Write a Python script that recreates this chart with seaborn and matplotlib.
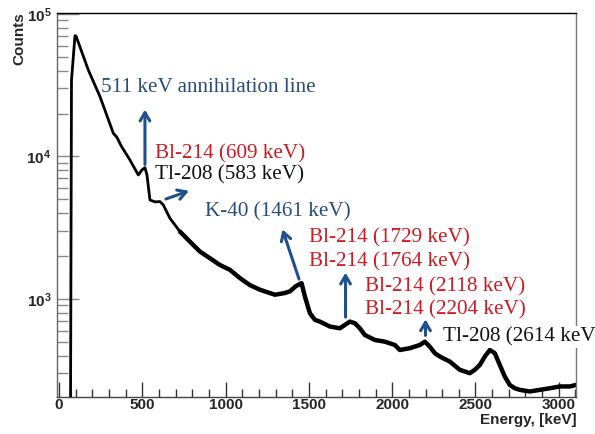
import numpy as np
import pandas as pd
import matplotlib
matplotlib.use('Agg')
import matplotlib.pyplot as plt
import seaborn as sns
from matplotlib.ticker import MultipleLocator, LogLocator, LogFormatterSciNotation

# Spectrum (energy in keV, counts per channel)
energy = [55, 69, 75, 96, 102, 176, 246, 326, 346, 376, 426, 476, 498, 516, 528,
          546, 576, 606, 626, 646, 666, 726, 786, 846, 906, 966, 1026, 1086, 1146,
          1206, 1296, 1356, 1386, 1422, 1456, 1476, 1506, 1536, 1566, 1626, 1686,
          1716, 1746, 1776, 1806, 1836, 1896, 1956, 2016, 2046, 2106, 2166, 2196,
          2226, 2256, 2286, 2346, 2406, 2466, 2496, 2526, 2556, 2586, 2616, 2646,
          2676, 2706, 2736, 2766, 2826, 2886, 2946, 3006, 3066, 3102]
counts = [150, 150, 34400, 70400, 70100, 40400, 26300, 14550, 13700, 11700, 9440,
          7410, 8040, 8340, 7410, 4950, 4800, 4820, 4570, 4100, 3680, 2970, 2520,
          2150, 1930, 1730, 1600, 1400, 1250, 1160, 1070, 1100, 1130, 1230, 1290,
          1040, 794, 713, 693, 640, 622, 657, 693, 675, 622, 558, 515, 501, 475,
          438, 451, 475, 501, 462, 416, 394, 363, 318, 301, 318, 344, 394, 438, 416,
          344, 285, 249, 236, 230, 224, 230, 236, 243, 243, 249]

# Peak labels: text, colour key, text anchor (keV, counts)
labels = ['511 keV annihilation line', 'Bl-214 (609 keV)', 'Tl-208 (583 keV)',
          'K-40 (1461 keV)', 'Bl-214 (1729 keV)', 'Bl-214 (1764 keV)',
          'Bl-214 (2118 keV)', 'Bl-214 (2204 keV)', 'Tl-208 (2614 keV)']
label_kind = ['blue', 'red', 'black', 'blue', 'red', 'red', 'red', 'red', 'black']
label_x = [252, 576, 576, 876, 1502, 1502, 1836, 1836, 2305]
label_y = [30300, 10500, 7410, 4100, 2670, 1830, 1220, 837, 543]

# Arrows: tail (on the peak) -> head
arrow_x0 = [516, 626, 1446, 1720, 2200]
arrow_y0 = [8400, 4950, 1320, 713, 530]
arrow_x1 = [516, 796, 1336, 1720, 2200]
arrow_y1 = [22300, 5820, 3210, 1600, 752]

colors = {'blue': '#274c7c', 'red': '#cc1b22', 'black': '#111111'}
arrow_color = '#20508c'

sns.set_style('white')
plt.rcParams['font.family'] = ['Liberation Sans', 'DejaVu Sans']
plt.rcParams['mathtext.default'] = 'regular'

fig = plt.figure(figsize=(5.95, 4.34), dpi=100)
ax = fig.add_axes([0.0958, 0.0853, 0.873, 0.8854])

df = pd.DataFrame({'energy': energy, 'counts': counts})
sns.lineplot(data=df, x='energy', y='counts', ax=ax, color='black', lw=2.0,
             estimator=None, sort=False)
# the noisy high-energy part looks heavier in the original
noisy = df[df['energy'] >= 700]
sns.lineplot(data=noisy, x='energy', y='counts', ax=ax, color='black', lw=3.2,
             estimator=None, sort=False)

ax.set_yscale('log')
ax.set_xlim(-12, 3106)
ax.set_ylim(205, 1.02e5)

ax.xaxis.set_major_locator(MultipleLocator(500))
ax.xaxis.set_minor_locator(MultipleLocator(100))
ax.yaxis.set_major_locator(LogLocator(base=10))
ax.yaxis.set_minor_locator(LogLocator(base=10, subs=np.arange(2, 10)))
ax.yaxis.set_major_formatter(LogFormatterSciNotation())
ax.yaxis.set_minor_formatter(plt.NullFormatter())

ax.tick_params(axis='x', which='major', direction='in', length=11, width=1,
               color='#333333', labelsize=11, pad=1, bottom=True)
ax.tick_params(axis='x', which='minor', direction='in', length=6, width=1,
               color='#333333', bottom=True)
ax.tick_params(axis='y', which='major', direction='in', length=16, width=1,
               color='#888888', labelsize=11, pad=4, left=True)
ax.tick_params(axis='y', which='minor', direction='in', length=8, width=1,
               color='#888888', left=True)
for lab in ax.get_xticklabels() + ax.get_yticklabels():
    lab.set_fontweight('bold')

for side, c in [('top', 'black'), ('right', '#777777'), ('left', '#666666'),
                ('bottom', '#444444')]:
    ax.spines[side].set_color(c)
    ax.spines[side].set_linewidth(1)

ax.set_xlabel('Energy, [keV]', fontsize=11, fontweight='bold', ha='right', va='top')
ax.xaxis.set_label_coords(1.0, -0.042)
ax.set_ylabel('Counts', fontsize=11, fontweight='bold', ha='right', va='bottom')
ax.yaxis.set_label_coords(-0.058, 1.0)

for txt, kind, tx, ty in zip(labels, label_kind, label_x, label_y):
    t = ax.text(tx, ty, txt, color=colors[kind], fontsize=15.2,
                family=['Liberation Serif', 'DejaVu Serif'], ha='left', va='center',
                clip_on=False, zorder=5)
    if txt.startswith('Tl-208 (2614'):
        t.set_bbox(dict(fc='white', ec='none', pad=1))

for x0, y0, x1, y1 in zip(arrow_x0, arrow_y0, arrow_x1, arrow_y1):
    ax.annotate('', xy=(x1, y1), xytext=(x0, y0),
                arrowprops=dict(arrowstyle='->,head_length=0.6,head_width=0.35',
                                color=arrow_color, lw=2.2))

fig.savefig('out.png', dpi=100)
